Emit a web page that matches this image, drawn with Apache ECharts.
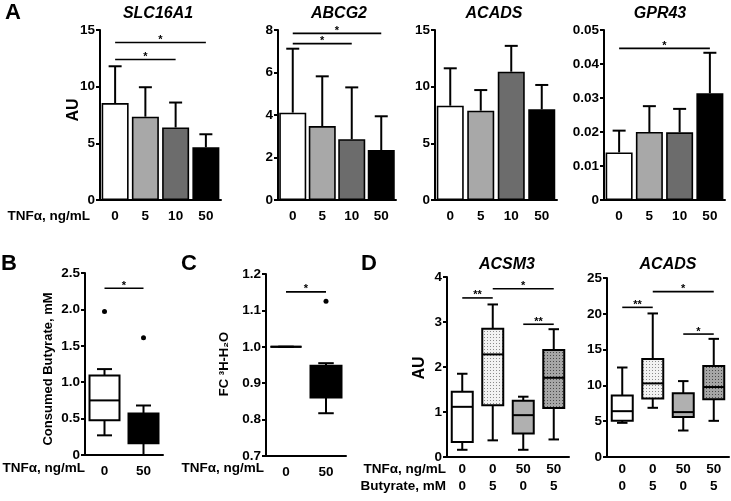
<!DOCTYPE html>
<html><head><meta charset="utf-8">
<script src="https://cdn.jsdelivr.net/npm/echarts@6/dist/echarts.min.js"></script>
<style>html,body{margin:0;padding:0;background:#fff}#c{width:731px;height:501px}</style>
</head><body><div id="c"></div>
<script>
// ---------- data ----------
const doseCats = ['0', '5', '10', '50'];
const slcMean = [8.55, 7.35, 6.4, 4.65];
const slcSD = [3.25, 2.6, 2.2, 1.15];
const abcMean = [4.11, 3.48, 2.86, 2.35];
const abcSD = [3.01, 2.34, 2.44, 1.59];
const acadsMean = [8.32, 7.88, 11.32, 8.0];
const acadsSD = [3.3, 1.82, 2.28, 2.15];
const gprMean = [0.0140, 0.0200, 0.0199, 0.0314];
const gprSD = [0.0064, 0.0076, 0.0069, 0.0119];

const sigSLC = [[0, 3, 13.9, '*'], [0, 2, 12.4, '*']];
const sigABC = [[0, 3, 7.84, '*'], [0, 2, 7.36, '*']];
const sigACADSbar = [];
const sigGPR = [[0, 3, 0.0446, '*']];

const bCats = ['0', '50'];
const butyrateBox = [[0.27, 0.476, 0.75, 1.093, 1.18], [0, 0.16, 0.35, 0.57, 0.68]];
const butyrateOut = [[0, 1.97], [1, 1.61]];
const sigB = [[0, 1, 2.29, '*']];

const h2oBox = [[1, 1, 1, 1, 1], [0.8175, 0.861, 0.93, 0.948, 0.955]];
const h2oOut = [[1, 1.125]];
const sigC = [[0, 1, 1.151, '*']];

const tnfRow = ['0', '0', '50', '50'];
const butRow = ['0', '5', '0', '5'];
const acsm3Box = [[0.16, 0.335, 1.115, 1.45, 1.85], [0.37, 1.15, 2.28, 2.85, 3.39],
                  [0.16, 0.52, 0.93, 1.25, 1.34], [0.39, 1.09, 1.76, 2.38, 2.84]];
const acadsBox = [[4.77, 5.05, 6.4, 8.6, 12.5], [6.87, 8.18, 10.28, 13.7, 20.05],
                  [3.7, 5.6, 6.27, 8.9, 10.6], [5.05, 8.05, 9.77, 12.72, 16.5]];
const sigACSM3 = [[0, 1, 3.535, '**'], [1, 3, 3.74, '*'], [2, 3, 2.95, '**']];
const sigACADS = [[0, 1, 20.9, '**'], [1, 3, 23.1, '*'], [2, 3, 17.17, '*']];

// ---------- styles ----------
const ink = '#000';
const FONT = '"Liberation Sans", Arial, Helvetica, sans-serif';
const barColors = ['#ffffff', '#a8a8a8', '#6c6c6c', '#000000'];
function dots(bg, dot) {
  const c = document.createElement('canvas');
  c.width = 3; c.height = 3;
  const x = c.getContext('2d');
  x.fillStyle = bg; x.fillRect(0, 0, 3, 3);
  x.fillStyle = dot; x.fillRect(1, 1, 1, 1);
  return { image: c, repeat: 'repeat' };
}
const dFills = ['#ffffff', dots('#f2f2f2', '#8a8a8a'), '#b0b0b0', dots('#a6a6a6', '#4a4a4a')];

const chart = echarts.init(document.getElementById('c'), null, { renderer: 'canvas' });

const grids = [], xAxes = [], yAxes = [], series = [];

function addPanel(g, cats, yMin, yMax, step, fmt, labelFmt) {
  const k = grids.length;
  grids.push({ left: g[0], top: g[1], width: g[2], height: g[3], containLabel: false });
  xAxes.push({
    type: 'category', gridIndex: k, data: cats,
    axisLine: { lineStyle: { color: ink, width: 2 } },
    axisTick: { alignWithLabel: true, length: 4, lineStyle: { color: ink, width: 2 } },
    axisLabel: { color: ink, fontFamily: FONT, fontWeight: 'bold', fontSize: 13.5,
      margin: labelFmt ? 4 : 8,
      formatter: labelFmt || undefined, lineHeight: 17 },
    splitLine: { show: false }
  });
  yAxes.push({
    type: 'value', gridIndex: k, min: yMin, max: yMax, interval: step,
    axisLine: { show: true, lineStyle: { color: ink, width: 2 } },
    axisTick: { show: true, length: 4, lineStyle: { color: ink, width: 2 } },
    axisLabel: { color: ink, fontFamily: FONT, fontWeight: 'bold', fontSize: 13.5, margin: 5, formatter: fmt },
    splitLine: { show: false }
  });
  return k;
}

function barSet(k, mean, sd) {
  series.push({
    type: 'bar', xAxisIndex: k, yAxisIndex: k, barWidth: 27,
    data: mean.map((v, i) => ({ value: v, itemStyle: { color: barColors[i] } })),
    itemStyle: { borderColor: ink, borderWidth: 1.6 }, z: 2, animation: false
  });
  series.push({
    type: 'custom', xAxisIndex: k, yAxisIndex: k, z: 3, animation: false,
    data: mean.map((m, i) => [i, m, m + sd[i]]),
    encode: { x: 0, y: [1, 2] },
    renderItem(p, api) {
      const a = api.coord([api.value(0), api.value(1)]);
      const b = api.coord([api.value(0), api.value(2)]);
      const hw = 6.5;
      return { type: 'group', children: [
        { type: 'line', shape: { x1: a[0], y1: a[1], x2: b[0], y2: b[1] }, style: { stroke: ink, lineWidth: 2 } },
        { type: 'line', shape: { x1: b[0] - hw, y1: b[1], x2: b[0] + hw, y2: b[1] }, style: { stroke: ink, lineWidth: 2 } }
      ] };
    }
  });
}

function boxSet(k, boxes, fills, bw) {
  series.push({
    type: 'custom', xAxisIndex: k, yAxisIndex: k, z: 3, animation: false,
    data: boxes.map((b, i) => [i].concat(b)),
    encode: { x: 0, y: [1, 2, 3, 4, 5] },
    renderItem(p, api) {
      const x = api.value(0);
      const c = [1, 2, 3, 4, 5].map(j => api.coord([x, api.value(j)]));
      const cx = c[0][0], hw = bw / 2, cw = bw / 4;
      const L = (x1, y1, x2, y2) => ({ type: 'line', shape: { x1, y1, x2, y2 }, style: { stroke: ink, lineWidth: 2 } });
      return { type: 'group', children: [
        L(cx, c[0][1], cx, c[1][1]),
        L(cx, c[3][1], cx, c[4][1]),
        L(cx - cw, c[0][1], cx + cw, c[0][1]),
        L(cx - cw, c[4][1], cx + cw, c[4][1]),
        { type: 'rect', shape: { x: cx - hw, y: c[3][1], width: bw, height: c[1][1] - c[3][1] },
          style: { fill: fills[p.dataIndex], stroke: ink, lineWidth: 2 } },
        L(cx - hw, c[2][1], cx + hw, c[2][1])
      ] };
    }
  });
}

function outliers(k, pts) {
  series.push({ type: 'scatter', xAxisIndex: k, yAxisIndex: k, data: pts, symbol: 'circle',
    symbolSize: 5, itemStyle: { color: ink, opacity: 1 }, z: 4, animation: false });
}

function sig(k, arr) {
  if (!arr.length) return;
  series.push({
    type: 'custom', xAxisIndex: k, yAxisIndex: k, z: 5, animation: false,
    data: arr.map(s => [s[0], s[1], s[2]]),
    encode: { x: [0, 1], y: 2 },
    renderItem(p, api) {
      const a = api.coord([api.value(0), api.value(2)]);
      const b = api.coord([api.value(1), api.value(2)]);
      return { type: 'group', children: [
        { type: 'line', shape: { x1: a[0], y1: a[1], x2: b[0], y2: b[1] }, style: { stroke: ink, lineWidth: 1.6 } },
        { type: 'text', x: (a[0] + b[0]) / 2, y: a[1] + 3,
          style: { text: arr[p.dataIndex][3], fill: ink, font: 'bold 11px ' + FONT, align: 'center', verticalAlign: 'bottom' } }
      ] };
    }
  });
}

const f0 = v => String(v);
const f1 = v => v === 0 ? '0' : v.toFixed(1);
const f2 = v => v === 0 ? '0' : v.toFixed(2);

// Panel A
let k;
k = addPanel([100, 30, 121, 170], doseCats, 0, 15, 5, f0); barSet(k, slcMean, slcSD); sig(k, sigSLC);
k = addPanel([278, 30, 118, 170], doseCats, 0, 8, 2, f0); barSet(k, abcMean, abcSD); sig(k, sigABC);
k = addPanel([435, 30, 122, 170], doseCats, 0, 15, 5, f0); barSet(k, acadsMean, acadsSD); sig(k, sigACADSbar);
k = addPanel([604, 30, 121, 170], doseCats, 0, 0.05, 0.01, f2); barSet(k, gprMean, gprSD); sig(k, sigGPR);
// Panel B
k = addPanel([85, 273, 78, 182], bCats, 0, 2.5, 0.5, f1);
boxSet(k, butyrateBox, ['#ffffff', '#000000'], 30); outliers(k, butyrateOut); sig(k, sigB);
// Panel C
k = addPanel([266, 274, 80, 182], bCats, 0.7, 1.2, 0.1, f1);
boxSet(k, h2oBox, ['#ffffff', '#000000'], 31); outliers(k, h2oOut); sig(k, sigC);
// Panel D
const dFmt = (v, i) => tnfRow[i] + '\n' + butRow[i];
k = addPanel([447, 277, 122, 180], tnfRow.map((t, i) => t + '/' + butRow[i]), 0, 4, 1, f0, dFmt);
boxSet(k, acsm3Box, dFills, 21); sig(k, sigACSM3);
k = addPanel([607, 278, 122, 179], tnfRow.map((t, i) => t + '/' + butRow[i]), 0, 25, 5, f0, dFmt);
boxSet(k, acadsBox, dFills, 21); sig(k, sigACADS);

// ---------- text ----------
const T = (x, y, text, font, align, rot) => ({ type: 'text', x, y, rotation: rot || 0,
  style: { text, font, fill: ink, align: align || 'center', verticalAlign: 'middle' } });
const titleF = 'italic bold 16px ' + FONT;
const letterF = 'bold 22px ' + FONT;
const labF = 'bold 13.5px ' + FONT;
const graphic = [
  T(13, 13, 'A', letterF), T(9, 264, 'B', letterF), T(189, 264, 'C', letterF), T(369, 264, 'D', letterF),
  T(158, 14, 'SLC16A1', titleF), T(339, 14, 'ABCG2', titleF), T(494, 14, 'ACADS', titleF), T(660, 14, 'GPR43', titleF),
  T(507, 265, 'ACSM3', titleF), T(668, 265, 'ACADS', titleF),
  T(74, 110, 'AU', 'bold 16px ' + FONT, 'center', Math.PI / 2),
  T(48, 369, 'Consumed Butyrate, mM', 'bold 13px ' + FONT, 'center', Math.PI / 2),
  T(224, 364, 'FC ³H-H₂O', 'bold 13px ' + FONT, 'center', Math.PI / 2),
  T(420, 368, 'AU', 'bold 16px ' + FONT, 'center', Math.PI / 2),
  T(90, 216, 'TNFα, ng/mL', labF, 'right'),
  T(85, 468, 'TNFα, ng/mL', labF, 'right'),
  T(264, 468, 'TNFα, ng/mL', labF, 'right'),
  T(446, 469, 'TNFα, ng/mL', labF, 'right'),
  T(446, 486, 'Butyrate, mM', labF, 'right')
];

chart.setOption({
  animation: false,
  backgroundColor: '#ffffff',
  textStyle: { fontFamily: FONT },
  grid: grids, xAxis: xAxes, yAxis: yAxes, series, graphic
});
</script></body></html>
